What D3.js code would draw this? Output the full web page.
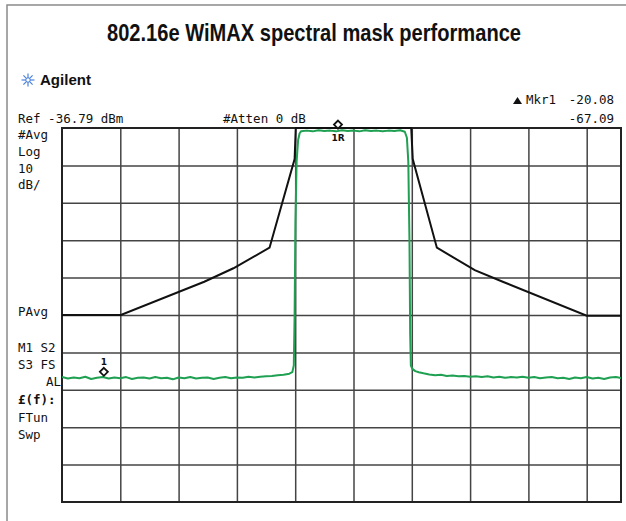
<!DOCTYPE html>
<html>
<head>
<meta charset="utf-8">
<script src="https://cdn.jsdelivr.net/npm/d3@7"></script>
<style>
  body { margin: 0; background: #fff; }
  .mono { font-family: "DejaVu Sans Mono", monospace; font-size: 12.5px; fill: #111; }
</style>
</head>
<body>
<div id="chart"></div>
<script>
// offset from centre frequency in MHz (5 MHz/div), level in dB below ref (10 dB/div)
const xGridMHz = [-20, -15, -10, -5, 0, 5, 10, 15, 20]
const yGridDb = [-10, -20, -30, -40, -50, -60, -70, -80, -90]

// spectral mask (black)
const maskMHz = [-25, -19.95, -12.8, -10.3, -7.2, -5.05, -4.95, 4.95, 5.08, 7.15, 10.4, 12.8, 20, 25]
const maskDb = [-50, -50, -41.1, -37.5, -32, -8.3, 0, 0, -8.3, -32, -38, -41.1, -50.2, -50.2]

const traceMHz = [
  -25, -24.5, -24, -23.5, -23, -22.5, -22, -21.5, -21, -20.5, -20, -19.5, -19, -18.5, -18,
  -17.5, -17, -16.5, -16, -15.5, -15, -14.5, -14, -13.5, -13, -12.5, -12, -11.5, -11, -10.5,
  -10, -9.5, -9, -8.5, -8, -7.5, -7, -6.5, -6, -5.5, -5.25, -5.12, -5.05, -4.98, -4.88,
  -4.75, -4.62, -4.5, -4, -3.5, -3, -2.5, -2, -1.5, -1, -0.5, 0, 0.5, 1, 1.5, 2, 2.5, 3,
  3.5, 4, 4.4, 4.58, 4.7, 4.8, 4.86, 4.92, 5.05, 5.3, 5.6, 6, 6.5, 7, 7.5, 8, 8.5, 9, 9.5,
  10, 10.5, 11, 11.5, 12, 12.5, 13, 13.5, 14, 14.5, 15, 15.5, 16, 16.5, 17, 17.5, 18, 18.5,
  19, 19.5, 20, 20.5, 21, 21.5, 22, 22.5, 23, 23.5, 24, 25
]
const traceDb = [
  -66.6, -67.0, -66.7, -66.9, -66.5, -67.1, -66.8, -66.6, -67.0, -66.7, -66.9, -66.6, -67.1, -66.8, -66.7,
  -67.0, -66.6, -66.9, -66.8, -67.2, -66.7, -66.9, -66.6, -67.0, -66.8, -66.7, -67.1, -66.8, -66.6, -66.9,
  -66.7, -66.8, -66.5, -66.7, -66.5, -66.4, -66.3, -66.1, -66.0, -65.7, -65.3, -63.5, -50, -25, -9,
  -3.2, -1.4, -0.9, -0.7, -0.9, -0.6, -0.8, -0.7, -0.9, -0.6, -0.8, -0.7, -0.9, -0.6, -0.8, -0.7, -0.9, -0.7,
  -0.8, -0.6, -1.0, -2.6, -9, -30, -55, -63.5, -64.4, -65.0, -65.3, -65.6, -65.9, -66.1, -66.0, -66.3, -66.2, -66.4, -66.3,
  -66.5, -66.4, -66.6, -66.4, -66.7, -66.5, -66.8, -66.6, -66.7, -66.5, -66.8, -66.6, -66.9, -66.7, -66.6, -66.9, -66.8, -67.1,
  -66.7, -66.9, -66.6, -67.0, -66.8, -67.1, -66.7, -66.6, -66.9, -66.6, -66.8, -66.7
]

// markers
const markerNames = ["1R", "1"]
const markerMHz = [-1.33, -21.41]
const markerDb = [-0.7, -66.8]

const leftLabels = ["#Avg", "Log", "10", "dB/"]
const statusLabels = ["M1 S2", "S3 FS"]
const lowerLabels = ["£(f):", "FTun", "Swp"]

var width = 626, height = 521
var plot = {left: 62, top: 128, right: 621, bottom: 502}

var svg = d3.select("#chart")
  .append("svg")
    .attr("width", width)
    .attr("height", height)

// outer frame
svg.append("rect")
  .attr("x", 7).attr("y", 5)
  .attr("width", 660).attr("height", 560)
  .style("fill", "none")
  .style("stroke", "#8a8a8a")
  .style("stroke-width", 1.5)

// title (condensed bold, squeezed to the reference width)
svg.append("text")
  .attr("x", 107).attr("y", 41)
  .attr("textLength", 414)
  .attr("lengthAdjust", "spacingAndGlyphs")
  .style("font-family", "'Liberation Sans', Arial, sans-serif")
  .style("font-weight", "bold")
  .style("font-size", "24px")
  .style("fill", "#111")
  .text("802.16e WiMAX spectral mask performance")

// Agilent logo: small blue starburst
var star = svg.append("g").attr("transform", "translate(28,80)")
d3.range(8).forEach(function(i) {
  var a = i * Math.PI / 4
  star.append("line")
    .attr("x1", 2 * Math.cos(a)).attr("y1", 2 * Math.sin(a))
    .attr("x2", 6.5 * Math.cos(a)).attr("y2", 6.5 * Math.sin(a))
    .style("stroke", "#4a82dc").style("stroke-width", 1.2)
})
star.append("circle").attr("r", 2.2).style("fill", "none").style("stroke", "#4a82dc").style("stroke-width", 1)

svg.append("text")
  .attr("x", 40).attr("y", 85)
  .attr("textLength", 51)
  .attr("lengthAdjust", "spacingAndGlyphs")
  .style("font-family", "'Liberation Sans', Arial, sans-serif")
  .style("font-weight", "bold")
  .style("font-size", "14.5px")
  .style("fill", "#111")
  .text("Agilent")

// header readouts
var mono = function(x, y, t, anchor) {
  return svg.append("text").attr("class", "mono")
    .attr("x", x).attr("y", y)
    .attr("text-anchor", anchor || "start")
    .text(t)
}
mono(18, 123, "Ref -36.79 dBm")
mono(223, 123, "#Atten 0 dB")
svg.append("path")
  .attr("d", "M513,104 L517.5,97 L522,104 Z")
  .style("fill", "#111")
mono(526, 104, "Mkr1")
mono(614, 104, "-20.08", "end")
mono(614, 123, "-67.09", "end")

// left side annotations
leftLabels.forEach(function(t, i) { mono(18, 139 + i * 16.8, t) })
mono(18, 316, "PAvg")
statusLabels.forEach(function(t, i) { mono(18, 352 + i * 16.8, t) })
mono(61, 386, "AL", "end")
lowerLabels.forEach(function(t, i) {
  var lab = mono(18, 404 + i * 17.5, t)
  if (i === 0) lab.style("font-weight", "bold")
})

// scales
var x = d3.scaleLinear().domain([-25, 25]).range([plot.left, 645])
var y = d3.scaleLinear().domain([-100, 0]).range([plot.bottom, plot.top])

svg.append("clipPath").attr("id", "clip")
  .append("rect")
    .attr("x", plot.left).attr("y", plot.top - 2)
    .attr("width", plot.right - plot.left).attr("height", plot.bottom - plot.top + 4)

// grid via axes
var gx = svg.append("g")
  .attr("transform", "translate(0," + plot.bottom + ")")
  .call(d3.axisBottom(x).tickValues(xGridMHz).tickSize(-(plot.bottom - plot.top)).tickFormat(""))
var gy = svg.append("g")
  .attr("transform", "translate(" + plot.left + ",0)")
  .call(d3.axisLeft(y).tickValues(yGridDb).tickSize(-(plot.right - plot.left)).tickFormat(""))
;[gx, gy].forEach(function(g) {
  g.select(".domain").remove()
  g.selectAll(".tick line").style("stroke", "#444").style("stroke-width", 1.5)
})

// plot border
svg.append("rect")
  .attr("x", plot.left).attr("y", plot.top)
  .attr("width", plot.right - plot.left).attr("height", plot.bottom - plot.top)
  .style("fill", "none")
  .style("stroke", "#222")
  .style("stroke-width", 2)

var line = d3.line()
  .x(function(d) { return x(d[0]) })
  .y(function(d) { return y(d[1]) })

// mask
svg.append("path")
  .datum(maskMHz.map(function(f, i) { return [f, maskDb[i]] }))
  .attr("clip-path", "url(#clip)")
  .attr("d", line)
  .style("fill", "none")
  .style("stroke", "#111")
  .style("stroke-width", 2)

// trace
svg.append("path")
  .datum(traceMHz.map(function(f, i) { return [f, traceDb[i]] }))
  .attr("clip-path", "url(#clip)")
  .attr("d", line)
  .style("fill", "none")
  .style("stroke", "#1fa052")
  .style("stroke-width", 2)
  .style("stroke-linejoin", "round")

// markers: diamond sitting on the trace, label above or below
markerNames.forEach(function(name, i) {
  var mx = x(markerMHz[i])
  var my = Math.max(y(markerDb[i]), plot.top) - 6
  svg.append("path")
    .attr("d", "M" + mx + "," + (my - 4) + " L" + (mx + 4) + "," + my + " L" + mx + "," + (my + 4) + " L" + (mx - 4) + "," + my + " Z")
    .style("fill", "#fff")
    .style("stroke", "#111")
    .style("stroke-width", 1.8)
  var below = my < plot.top
  svg.append("text")
    .attr("x", mx).attr("y", below ? my + 16 : my - 7)
    .attr("text-anchor", "middle")
    .style("font-family", "'DejaVu Sans', sans-serif")
    .style("font-weight", "bold")
    .style("font-size", "9px")
    .style("fill", "#111")
    .text(name)
})
</script>
</body>
</html>
